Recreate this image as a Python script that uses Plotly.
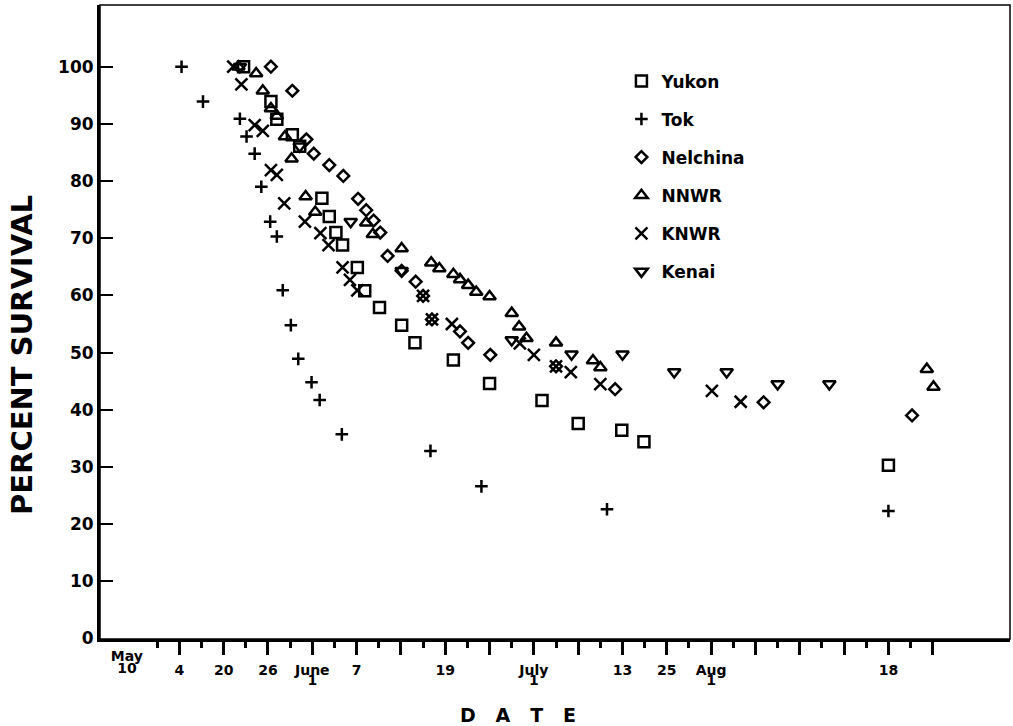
import plotly.graph_objects as go

# x values: days relative to June 1 ; y values: percent survival
yukon_day = [-9.3, -5.6, -4.8, -2.7, -1.7, 1.3, 2.3, 3.2, 4.1, 6.1, 7.1, 9.1, 12.1, 13.9, 19.1, 24.0, 31.1, 36.0, 41.9, 44.9, 78.0]
yukon_pct = [100, 93.9, 90.8, 88.1, 86.1, 77.0, 73.8, 71.0, 68.8, 64.9, 60.8, 57.9, 54.8, 51.7, 48.7, 44.6, 41.6, 37.6, 36.4, 34.4, 30.3]

tok_day = [-17.7, -14.8, -9.8, -8.9, -7.8, -6.9, -5.7, -4.8, -4.0, -2.9, -1.9, -0.1, 1.0, 4.0, 16.0, 22.9, 39.9, 78.0]
tok_pct = [100, 93.9, 90.9, 87.8, 84.8, 79.0, 72.9, 70.3, 60.9, 54.8, 48.9, 44.8, 41.7, 35.7, 32.8, 26.6, 22.6, 22.3]

nelchina_day = [-5.6, -2.7, -0.8, 0.2, 2.3, 4.2, 6.2, 7.3, 8.3, 9.2, 10.2, 12.1, 14.0, 15.0, 16.2, 20.0, 21.1, 24.1, 33.0, 41.0, 61.1, 81.2]
nelchina_pct = [100, 95.8, 87.3, 84.8, 82.8, 80.9, 76.9, 74.9, 73.1, 71.0, 66.9, 64.3, 62.4, 59.9, 55.8, 53.7, 51.7, 49.6, 47.6, 43.6, 41.3, 39.0]

nnwr_day = [-10.0, -7.6, -6.7, -5.6, -4.8, -3.7, -2.8, -0.9, 0.4, 7.3, 8.2, 12.1, 16.1, 17.2, 19.1, 20.0, 21.1, 22.2, 24.0, 27.0, 28.0, 29.0, 33.0, 38.0, 39.0, 83.2, 84.1]
nnwr_pct = [100, 98.8, 95.8, 92.7, 91.4, 87.8, 83.9, 77.3, 74.6, 72.7, 70.7, 68.2, 65.7, 64.7, 63.7, 62.8, 61.8, 60.6, 59.8, 56.9, 54.5, 52.5, 51.7, 48.6, 47.4, 47.1, 44.0]

knwr_day = [-10.7, -9.6, -7.8, -6.7, -5.6, -4.8, -3.8, -1.0, 1.1, 2.2, 4.1, 5.1, 6.1, 15.0, 16.2, 18.9, 28.1, 30.0, 33.0, 35.0, 39.0, 54.1, 58.0]
knwr_pct = [100, 96.9, 89.8, 88.8, 81.9, 81.1, 76.1, 72.9, 70.9, 68.8, 64.9, 62.7, 60.9, 59.9, 55.8, 55.0, 51.6, 49.6, 47.6, 46.6, 44.5, 43.3, 41.4]

kenai_day = [-9.8, -1.7, 5.2, 12.1, 27.0, 35.1, 42.0, 49.0, 56.1, 63.0, 70.0]
kenai_pct = [100, 86.1, 72.9, 64.3, 52.2, 49.7, 49.7, 46.6, 46.6, 44.5, 44.5]

# axis ticks (x in days relative to June 1)
x_major_vals = [-18, -12, -6, 0, 6, 12, 18, 24, 30, 36, 42, 48, 54, 60, 66, 72, 78, 84]
x_major_text = ["4", "20", "26", "June", "7", "", "19", "", "July", "", "13", "25", "Aug", "", "", "", "18", ""]
x_minor_vals = [-21, -15, -9, -3, 3, 9, 15, 21, 27, 33, 39, 45, 51, 57, 63, 69, 75, 81]
x_upper_vals = [-25.1]
x_upper_text = ["May"]
x_mid_vals = [-25.1]
x_mid_text = ["10"]
x_lower_vals = [0, 30, 54]
x_lower_text = ["1", "1", "1"]
y_tick_vals = [0, 10, 20, 30, 40, 50, 60, 70, 80, 90, 100]

FONT = "DejaVu Sans"
X_RANGE = [-28.74, 94.46]
Y_RANGE = [-0.1, 110.8]
TICKFONT_X = dict(family=FONT, size=14, color="black", weight="bold")

series = [
    ("Yukon", yukon_day, yukon_pct, "square-open", 11),
    ("Tok", tok_day, tok_pct, "cross-thin", 9),
    ("Nelchina", nelchina_day, nelchina_pct, "diamond-open", 9),
    ("NNWR", nnwr_day, nnwr_pct, "triangle-up-open", 11),
    ("KNWR", knwr_day, knwr_pct, "x-thin", 12),
    ("Kenai", kenai_day, kenai_pct, "triangle-down-open", 11),
]

fig = go.Figure()
for name, xs, ys, sym, sz in series:
    fig.add_trace(go.Scatter(
        x=xs, y=ys, mode="markers", name=name, legendgroup=name,
        marker=dict(symbol=sym, size=sz, color="black",
                    line=dict(color="black", width=2.5)),
    ))

# empty traces so the label-only overlay axes are drawn
for ax in ["x2", "x3", "x4"]:
    fig.add_trace(go.Scatter(x=[], y=[], xaxis=ax, yaxis="y", mode="markers",
                             showlegend=False, hoverinfo="skip"))


def label_axis(vals, text, ticklen):
    return dict(
        range=X_RANGE, overlaying="x", side="bottom", anchor="y",
        showline=False, showgrid=False, zeroline=False,
        tickmode="array", tickvals=vals, ticktext=text,
        ticks="outside", ticklen=ticklen, tickwidth=1, tickcolor="rgba(0,0,0,0)",
        tickfont=TICKFONT_X,
    )


fig.update_layout(
    width=1013, height=726,
    margin=dict(l=100, r=3, t=5, b=87),
    paper_bgcolor="white", plot_bgcolor="white",
    showlegend=True,
    legend=dict(x=0.573, y=0.908, xanchor="left", yanchor="top",
                font=dict(family=FONT, size=17, color="black", weight="bold"),
                tracegroupgap=13, bgcolor="rgba(0,0,0,0)", itemwidth=30),
    xaxis=dict(
        range=X_RANGE, showline=True, linewidth=3, linecolor="black",
        showgrid=False, zeroline=False,
        tickmode="array", tickvals=x_major_vals, ticktext=x_major_text,
        ticks="outside", ticklen=13, tickwidth=2.5, tickcolor="black",
        ticklabelstandoff=3,
        tickfont=TICKFONT_X,
        minor=dict(tickmode="array", tickvals=x_minor_vals, ticks="outside",
                   ticklen=6, tickwidth=2.5, tickcolor="black", showgrid=False),
    ),
    xaxis2=label_axis(x_upper_vals, x_upper_text, 4),
    xaxis3=label_axis(x_mid_vals, x_mid_text, 16),
    xaxis4=label_axis(x_lower_vals, x_lower_text, 28),
    yaxis=dict(
        range=Y_RANGE, showline=True, linewidth=3, linecolor="black",
        showgrid=False, zeroline=False,
        tickmode="array", tickvals=y_tick_vals,
        ticks="inside", ticklen=13, tickwidth=2, tickcolor="black",
        tickfont=dict(family=FONT, size=17, color="black", weight="bold"),
    ),
    shapes=[dict(type="rect", xref="paper", yref="paper", x0=0, y0=0, x1=1, y1=1,
                 line=dict(color="black", width=1.5))],
    annotations=[
        dict(text="PERCENT SURVIVAL", xref="paper", yref="paper",
             x=-0.0857, y=0.448, xanchor="center", yanchor="middle",
             textangle=-90, showarrow=False,
             font=dict(family=FONT, size=29, color="black", weight="bold")),
        dict(text="D\u00a0\u00a0\u00a0A\u00a0\u00a0\u00a0T\u00a0\u00a0\u00a0E", xref="paper", yref="paper",
             x=0.459, y=-0.12, xanchor="center", yanchor="middle", showarrow=False,
             font=dict(family=FONT, size=19, color="black", weight="bold")),
    ],
)

fig.write_html("out.html", config={"displayModeBar": False},
               post_script="document.body.style.margin='0';")
